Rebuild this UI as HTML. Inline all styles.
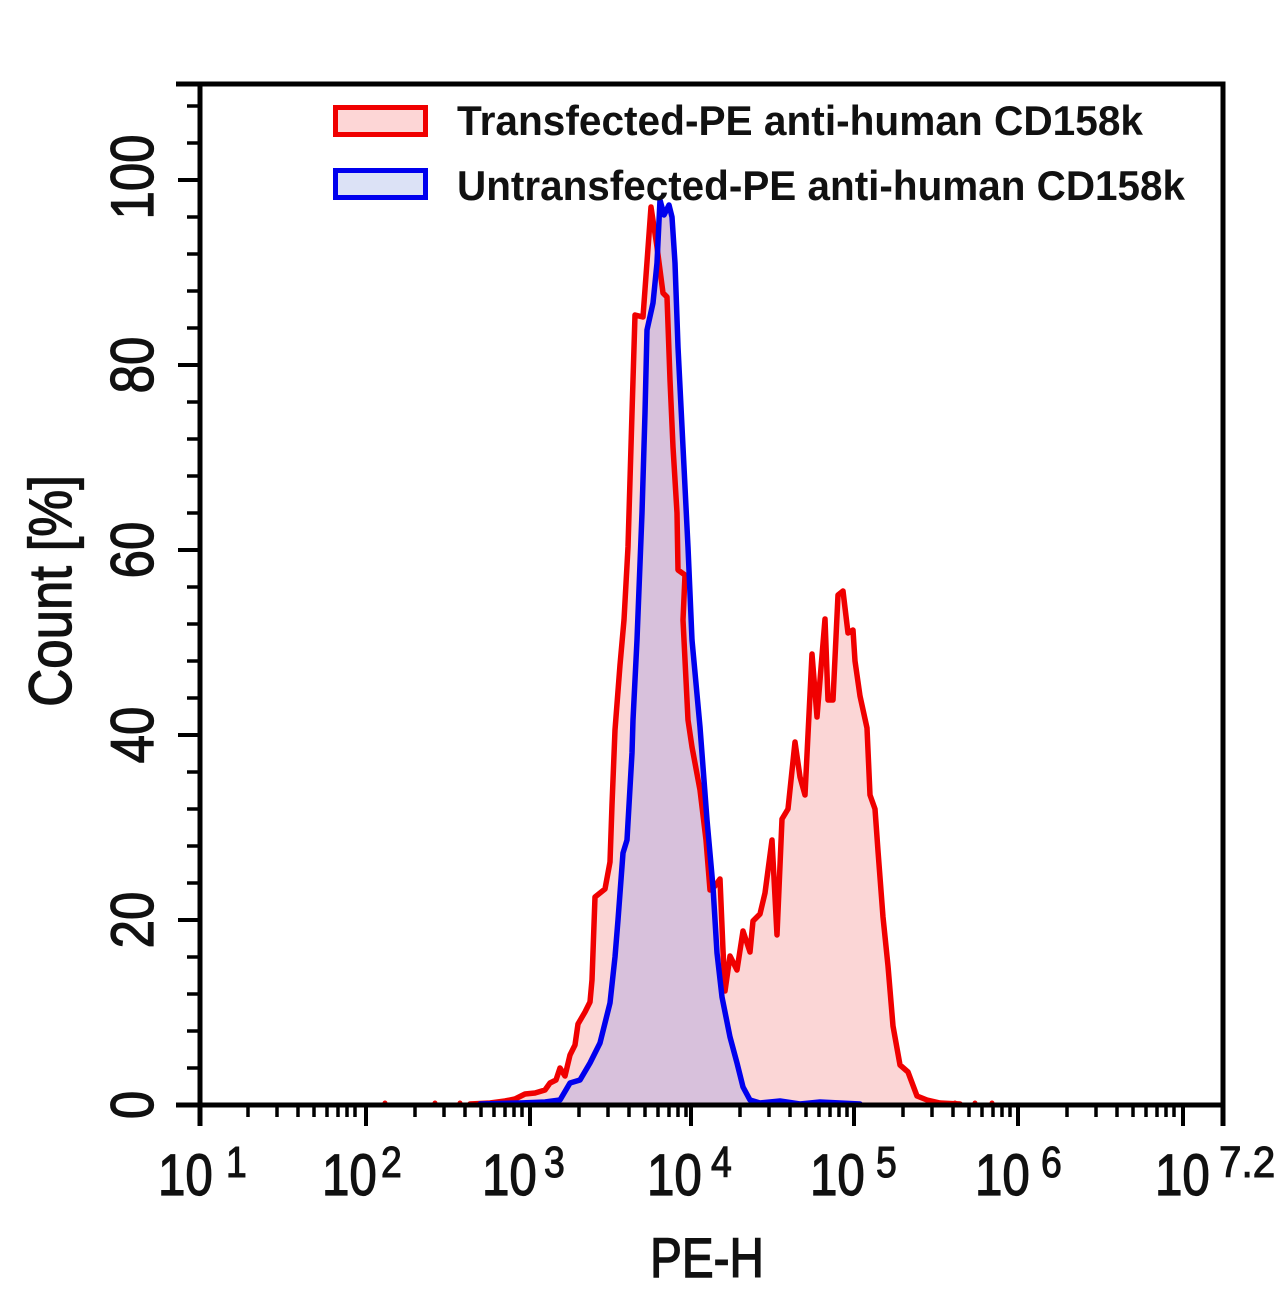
<!DOCTYPE html>
<html>
<head>
<meta charset="utf-8">
<style>
html,body{margin:0;padding:0;background:#fff;}
svg{display:block;}
text{font-family:"Liberation Sans",Arial,sans-serif;fill:#111;}
</style>
</head>
<body>
<svg width="1286" height="1300" viewBox="0 0 1286 1300" xmlns="http://www.w3.org/2000/svg">
<rect x="0" y="0" width="1286" height="1300" fill="#fff"/>

<!-- fills -->
<path fill="#fbd6d6" d="M470,1105 L470,1104 L490,1103 L505,1101 L515,1099 L525,1094 L535,1093 L545,1090 L550,1083 L556,1080 L560,1068 L565,1076 L570,1055 L575,1045 L578,1024 L585,1012 L590,1002 L592,980 L595,897 L605,889 L610,862 L612,805 L615,730 L620,665 L624,620 L628,547 L632,413 L635,315 L643,317 L651,207 L657,247 L663,293 L667,297 L670,380 L673,447 L677,513 L678,570 L685,575 L683,620 L688,720 L692,747 L700,790 L706,840 L710,890 L715,886 L720,879 L723,950 L725,991 L730,956 L737,970 L743,931 L750,952 L753,921 L760,914 L765,893 L772,840 L777,935 L782,819 L788,809 L795,742 L800,777 L805,795 L812,654 L817,717 L825,619 L828,700 L833,700 L838,595 L843,591 L848,633 L853,630 L855,661 L860,696 L867,728 L870,795 L875,809 L878,851 L883,917 L888,966 L893,1026 L900,1065 L908,1072 L917,1096 L927,1100 L940,1103 L960,1104 L960,1105 Z"/>
<path fill="#d8c1dc" d="M480,1105 L480,1104 L520,1103 L545,1102 L560,1100 L570,1083 L580,1080 L590,1063 L600,1043 L610,1003 L615,957 L618,920 L623,853 L627,840 L632,753 L633,720 L637,640 L642,513 L645,413 L647,330 L653,303 L657,263 L660,200 L664,215 L669,205 L672,217 L675,263 L678,347 L683,447 L688,547 L692,640 L700,727 L707,820 L713,887 L717,953 L722,997 L730,1037 L737,1063 L743,1087 L750,1100 L760,1103 L780,1101 L800,1104 L820,1102 L840,1103 L860,1104 L860,1105 Z"/>

<!-- lines -->
<path fill="none" stroke="#f00000" stroke-width="5.5" stroke-linejoin="round" stroke-linecap="round" d="M470,1104 L490,1103 L505,1101 L515,1099 L525,1094 L535,1093 L545,1090 L550,1083 L556,1080 L560,1068 L565,1076 L570,1055 L575,1045 L578,1024 L585,1012 L590,1002 L592,980 L595,897 L605,889 L610,862 L612,805 L615,730 L620,665 L624,620 L628,547 L632,413 L635,315 L643,317 L651,207 L657,247 L663,293 L667,297 L670,380 L673,447 L677,513 L678,570 L685,575 L683,620 L688,720 L692,747 L700,790 L706,840 L710,890 L715,886 L720,879 L723,950 L725,991 L730,956 L737,970 L743,931 L750,952 L753,921 L760,914 L765,893 L772,840 L777,935 L782,819 L788,809 L795,742 L800,777 L805,795 L812,654 L817,717 L825,619 L828,700 L833,700 L838,595 L843,591 L848,633 L853,630 L855,661 L860,696 L867,728 L870,795 L875,809 L878,851 L883,917 L888,966 L893,1026 L900,1065 L908,1072 L917,1096 L927,1100 L940,1103 L960,1104"/>
<path fill="none" stroke="#0000ee" stroke-width="5.5" stroke-linejoin="round" stroke-linecap="round" d="M480,1104 L520,1103 L545,1102 L560,1100 L570,1083 L580,1080 L590,1063 L600,1043 L610,1003 L615,957 L618,920 L623,853 L627,840 L632,753 L633,720 L637,640 L642,513 L645,413 L647,330 L653,303 L657,263 L660,200 L664,215 L669,205 L672,217 L675,263 L678,347 L683,447 L688,547 L692,640 L700,727 L707,820 L713,887 L717,953 L722,997 L730,1037 L737,1063 L743,1087 L750,1100 L760,1103 L780,1101 L800,1104 L820,1102 L840,1103 L860,1104"/>
<!-- small tail dots -->
<g fill="#f00000">
<circle cx="385" cy="1103" r="2.5"/><circle cx="435" cy="1103" r="2.5"/><circle cx="460" cy="1103" r="2.5"/><circle cx="955" cy="1103" r="2.5"/><circle cx="975" cy="1103" r="2.5"/><circle cx="992" cy="1103" r="2.5"/>
</g>

<!-- axes frame -->
<g stroke="#000" stroke-width="5" fill="none" stroke-linecap="butt">
<line x1="200" y1="82" x2="200" y2="1126"/>
<line x1="1223" y1="82" x2="1223" y2="1126"/>
<line x1="176" y1="84" x2="1225.5" y2="84"/>
<line x1="176" y1="1105" x2="1225.5" y2="1105"/>
</g>

<!-- x ticks -->
<g stroke="#000" stroke-width="4">
<path d="M366,1105 V1126 M530,1105 V1126 M691,1105 V1126 M854,1105 V1126 M1018,1105 V1126 M1183,1105 V1126"/>
</g>
<g stroke="#000" stroke-width="3.5">
<path d="M248,1105 V1117 M277,1105 V1117 M298,1105 V1117 M314,1105 V1117 M327,1105 V1117 M338,1105 V1117 M347,1105 V1117 M355,1105 V1117
M415,1105 V1117 M444,1105 V1117 M465,1105 V1117 M481,1105 V1117 M494,1105 V1117 M505,1105 V1117 M514,1105 V1117 M522,1105 V1117
M579,1105 V1117 M608,1105 V1117 M629,1105 V1117 M645,1105 V1117 M658,1105 V1117 M669,1105 V1117 M678,1105 V1117 M686,1105 V1117
M740,1105 V1117 M769,1105 V1117 M790,1105 V1117 M806,1105 V1117 M819,1105 V1117 M830,1105 V1117 M839,1105 V1117 M847,1105 V1117
M903,1105 V1117 M932,1105 V1117 M953,1105 V1117 M969,1105 V1117 M982,1105 V1117 M993,1105 V1117 M1002,1105 V1117 M1010,1105 V1117
M1067,1105 V1117 M1096,1105 V1117 M1117,1105 V1117 M1133,1105 V1117 M1146,1105 V1117 M1157,1105 V1117 M1166,1105 V1117 M1174,1105 V1117"/>
</g>

<!-- y ticks -->
<g stroke="#000" stroke-width="4">
<path d="M178,920 H200 M178,735 H200 M178,550 H200 M178,365 H200 M178,180 H200"/>
</g>
<g stroke="#000" stroke-width="3.5">
<path d="M187,1068 H200 M187,1031 H200 M187,994 H200 M187,957 H200
M187,883 H200 M187,846 H200 M187,809 H200 M187,772 H200
M187,698 H200 M187,661 H200 M187,624 H200 M187,587 H200
M187,513 H200 M187,476 H200 M187,439 H200 M187,402 H200
M187,328 H200 M187,291 H200 M187,254 H200 M187,217 H200
M187,143 H200 M187,106 H200"/>
</g>

<!-- y tick labels -->
<g font-size="60" text-anchor="middle" stroke="#111" stroke-width="1.3">
<text transform="translate(153,1105) rotate(-90) scale(0.85,1)">0</text>
<text transform="translate(153,920) rotate(-90) scale(0.85,1)">20</text>
<text transform="translate(153,735) rotate(-90) scale(0.85,1)">40</text>
<text transform="translate(153,550) rotate(-90) scale(0.85,1)">60</text>
<text transform="translate(153,365) rotate(-90) scale(0.85,1)">80</text>
<text transform="translate(153,177) rotate(-90) scale(0.85,1)">100</text>
</g>
<text font-size="60" text-anchor="middle" stroke="#111" stroke-width="1.3" transform="translate(71,591) rotate(-90) scale(0.88,1)">Count [%]</text>

<!-- x tick labels -->
<g font-size="58" stroke="#111" stroke-width="1.3">
<text transform="translate(158,1195) scale(0.85,1)">10</text>
<text transform="translate(322,1195) scale(0.85,1)">10</text>
<text transform="translate(482,1195) scale(0.85,1)">10</text>
<text transform="translate(647,1195) scale(0.85,1)">10</text>
<text transform="translate(810,1195) scale(0.85,1)">10</text>
<text transform="translate(975,1195) scale(0.85,1)">10</text>
<text transform="translate(1155,1195) scale(0.85,1)">10</text>
</g>
<g font-size="44" stroke="#111" stroke-width="1.1">
<text transform="translate(226,1177) scale(0.85,1)">1</text>
<text transform="translate(381,1177) scale(0.85,1)">2</text>
<text transform="translate(544,1177) scale(0.85,1)">3</text>
<text transform="translate(711,1177) scale(0.85,1)">4</text>
<text transform="translate(876,1177) scale(0.85,1)">5</text>
<text transform="translate(1041,1177) scale(0.85,1)">6</text>
<text transform="translate(1219,1177) scale(0.92,1)">7.2</text>
</g>
<text font-size="56" text-anchor="middle" stroke="#111" stroke-width="1.4" transform="translate(707,1277) scale(0.85,1)">PE-H</text>

<!-- legend -->
<rect x="335.5" y="107.5" width="90" height="27" fill="#fdd6d6" stroke="#f00000" stroke-width="5"/>
<rect x="335.5" y="170.5" width="90" height="27" fill="#dce2f6" stroke="#0000ee" stroke-width="5"/>
<text x="457" y="135" font-size="42" font-weight="bold" textLength="686" lengthAdjust="spacingAndGlyphs">Transfected-PE anti-human  CD158k</text>
<text x="457" y="200" font-size="42" font-weight="bold" textLength="728" lengthAdjust="spacingAndGlyphs">Untransfected-PE anti-human  CD158k</text>
</svg>
</body>
</html>
